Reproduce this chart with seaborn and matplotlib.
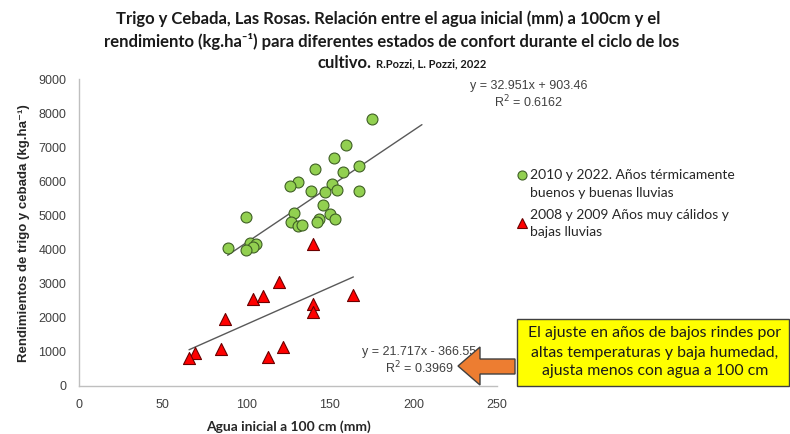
import numpy as np
import pandas as pd
import matplotlib
matplotlib.use("Agg")
import matplotlib.pyplot as plt
import matplotlib.patches as mpatches
from matplotlib.lines import Line2D
import seaborn as sns

# ==========================================
# Data
# ==========================================

green_x = [175.1, 159.9, 152.7, 141.1, 167.5, 157.9, 131.0, 126.4, 151.5, 138.6,
           147.1, 154.3, 167.6, 145.9, 128.4, 149.9, 127.0, 131.2, 133.2, 143.4,
           142.3, 153.1, 99.9, 88.9, 102.1, 106.0, 104.2, 99.9]
green_y = [7828, 7074, 6677, 6361, 6449, 6273, 5970, 5872, 5932, 5726,
           5687, 5746, 5717, 5297, 5062, 5042, 4799, 4690, 4729, 4896,
           4808, 4888, 4954, 4056, 4186, 4174, 4086, 3981]

red_x = [119.8, 103.9, 109.9, 87.3, 140.1, 140.1, 164.1, 69.4, 65.8, 84.7,
         112.9, 121.8, 140.1]
red_y = [3058, 2551, 2649, 1956, 2396, 2161, 2667, 961, 815, 1079,
         844, 1155, 4153]

green_label = "2010 y 2022. Años térmicamente\nbuenos y buenas lluvias"
red_label = "2008 y 2009 Años muy cálidos y\nbajas lluvias"

# trendline coefficients shown on the chart
green_fit = (32.951, 903.46)
red_fit = (21.717, -366.55)
green_r2 = "0.6162"
red_r2 = "0.3969"
green_forecast = 30  # excel trendline forward forecast

x_ticks = [0, 50, 100, 150, 200, 250]
y_ticks = [0, 1000, 2000, 3000, 4000, 5000, 6000, 7000, 8000, 9000]

note_lines = ["El ajuste en años de bajos rindes por",
              "altas temperaturas y baja humedad,",
              "ajusta menos con agua a 100 cm"]

df = pd.concat([
    pd.DataFrame({"agua": green_x, "rend": green_y, "grupo": green_label}),
    pd.DataFrame({"agua": red_x, "rend": red_y, "grupo": red_label}),
])

# ==========================================
# Figure
# ==========================================

sns.set_style("white")
plt.rcParams["font.family"] = ["Liberation Sans", "DejaVu Sans"]

W, H = 790, 434
fig = plt.figure(figsize=(W / 100, H / 100), dpi=100)


def fx(px):
    return px / W


def fy(py):
    return 1 - py / H


ax = fig.add_axes([fx(79), fy(386), (497 - 79) / W, (386 - 79) / H])

GREEN = "#92D050"
RED = "#FF0000"
GREEN_EDGE = "#3f5f25"
RED_EDGE = "#6b0000"
TFAM = ["Lato", "DejaVu Sans"]

sns.scatterplot(data=df[df["grupo"] == green_label], x="agua", y="rend",
                color=GREEN, edgecolor=GREEN_EDGE, linewidth=0.8, s=62,
                marker="o", ax=ax, legend=False, zorder=3)
sns.scatterplot(data=df[df["grupo"] == red_label], x="agua", y="rend",
                color=RED, edgecolor=RED_EDGE, linewidth=0.8, s=75,
                marker="^", ax=ax, legend=False, zorder=3)

# trendlines
gx = np.array([min(green_x), max(green_x) + green_forecast])
ax.plot(gx, green_fit[0] * gx + green_fit[1], color="#595959", lw=1, zorder=2)
rx = np.array([min(red_x), max(red_x)])
ax.plot(rx, red_fit[0] * rx + red_fit[1], color="#595959", lw=1, zorder=2)

ax.set_xlim(0, 250)
ax.set_ylim(0, 9000)
ax.set_xticks(x_ticks)
ax.set_yticks(y_ticks)
ax.set_xlabel("")
ax.set_ylabel("")
for s in ["top", "right"]:
    ax.spines[s].set_visible(False)
for s in ["left", "bottom"]:
    ax.spines[s].set_color("#bfbfbf")
    ax.spines[s].set_linewidth(1)
ax.tick_params(axis="both", direction="out", length=5, width=1,
               color="#bfbfbf", labelsize=9, labelcolor="#404040", pad=4)

# axis titles
fig.text(fx(288), fy(427), "Agua inicial a 100 cm (mm)", ha="center", va="center",
         fontsize=10, fontweight="bold", family=TFAM, color="#262626")
fig.text(fx(24), fy(233), "Rendimientos de trigo y cebada (kg.ha\u207b\u00b9)",
         ha="center", va="center", rotation=90, fontsize=9.5, fontweight="bold",
         color="#262626")

# title
fig.text(fx(388), fy(19), "Trigo y Cebada, Las Rosas. Relación entre el agua inicial (mm) a 100cm y el",
         ha="center", va="center", fontsize=12, fontweight="bold", family=TFAM, color="#1a1a1a")
fig.text(fx(392), fy(41), "rendimiento (kg.ha\u207b\u00b9) para diferentes estados de confort durante el ciclo de los",
         ha="center", va="center", fontsize=12, fontweight="bold", family=TFAM, color="#1a1a1a")
fig.text(fx(318), fy(63), "cultivo.", ha="left", va="center", fontsize=12,
         fontweight="bold", family=TFAM, color="#1a1a1a")
fig.text(fx(376), fy(64), "R.Pozzi, L. Pozzi, 2022", ha="left", va="center", fontsize=8,
         fontweight="bold", family=TFAM, color="#1a1a1a")

# equations
fig.text(fx(529), fy(86), f"y = {green_fit[0]}x + {green_fit[1]}", ha="center", va="center",
         fontsize=9, color="#404040")
fig.text(fx(529), fy(102), f"R$^2$ = {green_r2}", ha="center", va="center",
         fontsize=9, color="#404040")
fig.text(fx(419), fy(352), f"y = {red_fit[0]}x - {abs(red_fit[1])}", ha="center", va="center",
         fontsize=9, color="#404040")
fig.text(fx(419), fy(368), f"R$^2$ = {red_r2}", ha="center", va="center",
         fontsize=9, color="#404040")

# legend (drawn by hand to match the excel layout)
leg_items = [
    (green_label, "o", GREEN, GREEN_EDGE, 6.5, 175, 175),
    (red_label, "^", RED, RED_EDGE, 7, 223, 215),
]
for label, mk, fc, ec, ms, marker_y, text_y in leg_items:
    fig.add_artist(Line2D([fx(522)], [fy(marker_y)], marker=mk, ls="", markersize=ms,
                          markerfacecolor=fc, markeredgecolor=ec, markeredgewidth=0.8,
                          transform=fig.transFigure))
    for i, line in enumerate(label.split("\n")):
        fig.text(fx(530), fy(text_y + i * 17.5), line, ha="left", va="center",
                 fontsize=10, family=TFAM, color="#262626")

# yellow note box with arrow
fig.patches.append(mpatches.Rectangle((fx(517), fy(386)), (789 - 517) / W, (386 - 319) / H,
                                      transform=fig.transFigure, facecolor="#FFFF00",
                                      edgecolor="#404040", lw=1, zorder=5))
for i, line in enumerate(note_lines):
    fig.text(fx(655), fy(333.5 + i * 19), line, ha="center", va="center",
             fontsize=11.4, family=TFAM, color="#1a1a1a", zorder=6)

arrow_px = [(458, 366), (480, 347), (480, 359), (515, 359), (515, 374), (480, 374), (480, 385)]
fig.patches.append(mpatches.Polygon([(fx(a), fy(b)) for a, b in arrow_px], closed=True,
                                    transform=fig.transFigure, facecolor="#ED7D31",
                                    edgecolor="#404040", lw=1, zorder=5))

plt.savefig("out.png", dpi=100)
plt.close()
